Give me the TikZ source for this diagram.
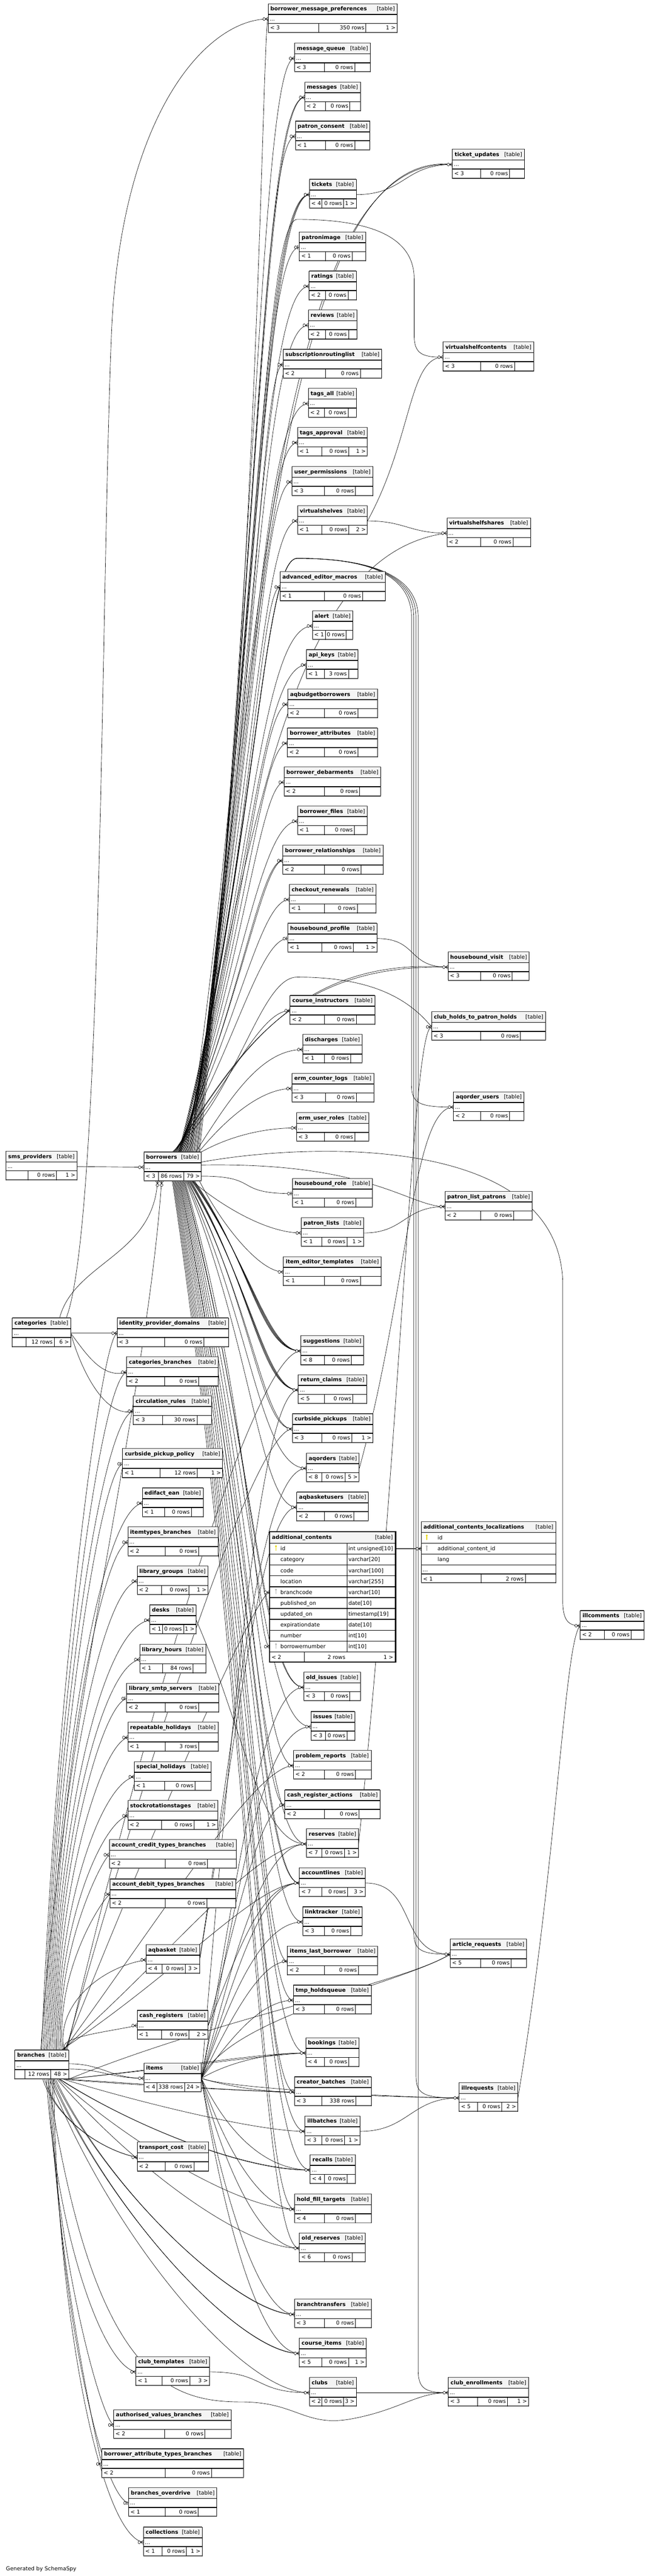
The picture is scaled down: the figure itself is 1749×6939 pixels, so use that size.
\documentclass[tikz,border=0pt]{standalone}
\usepackage{fontspec}
\setmainfont{DejaVu Sans}
\usetikzlibrary{calc}
\pgfdeclarelayer{back}\pgfdeclarelayer{edges}
\pgfsetlayers{back,edges,main}
\definecolor{hdrc}{HTML}{F4F4F4}
\definecolor{keyy}{HTML}{E6D600}
\definecolor{keyg}{HTML}{B4B4B4}
\tikzset{
 txt/.style={inner sep=0pt, font=\fontsize{14.5}{17}\selectfont},
 fk/.style={draw=black, line width=0.9pt},
 mkst/.style={draw=black, line width=0.9pt},
}
\newcommand\mytbl[5]{%
  \pgfmathsetmacro\tbw{#5-#3}%
  \xdef\tbx{#3}\xdef\tby{#4}\xdef\tbr{#5}%
  \fill[white] (#3,#4) rectangle (#5,#4+78);
  \fill[hdrc] (#3,#4) rectangle (#5,#4+29);
  \draw[line width=0.9pt] (#3,#4) rectangle (#5,#4+78);
  \draw[line width=2.2pt] (#3,#4+29) -- (#5,#4+29) (#3,#4+53) -- (#5,#4+53);
  \draw[line width=1.6pt, black!75] (#3,#4) -- (#5,#4);
  \draw[line width=2.6pt, black!65] (#3,#4+77.5) -- (#5,#4+77.5);
  \node[inner sep=0pt, minimum width=\tbw pt, minimum height=78pt, anchor=north west] (#1) at (#3,#4) {};
  \node[inner sep=0pt, minimum width=\tbw pt, minimum height=24pt, anchor=north west] (#1-d) at (#3,#4+29) {};
  \node[txt, anchor=base west] (#1-n) at (#3+6,#4+19) {\bfseries #2};
  \node[txt, anchor=base east] (#1-t) at (#5-6,#4+19) {[table]};
  \node[txt, anchor=base west] (#1-x) at (#3+4,#4+46) {...};
}
\newcommand\myft[6]{%
  \draw[line width=0.9pt] (#2,\tby+53) -- (#2,\tby+78) (#3,\tby+53) -- (#3,\tby+78);
  \node[txt, anchor=base west] (#1-fl) at (\tbx+5,\tby+70) {#4};
  \node[txt, anchor=base east] (#1-fm) at (#3-4,\tby+70) {#5};
  \node[txt, anchor=base east] (#1-fr) at (\tbr-4,\tby+70) {#6};
}
\newcommand\mkc[1]{%
  \draw[mkst] let \p1=(#1-d.west) in (\x1-7.5pt,\y1) -- (\x1,\y1+5pt) (\x1-7.5pt,\y1) -- (\x1,\y1-5pt) (\x1-7.5pt,\y1) -- (\x1,\y1);
  \draw[mkst, fill=white] let \p1=(#1-d.west) in (\x1-11pt,\y1) circle[x radius=3.2pt, y radius=4pt];
}
\newcommand\mkb[1]{%
  \draw[mkst, line width=1.4pt] let \p1=(#1-d.west) in (\x1-4pt,\y1-5pt) -- (\x1-4pt,\y1+5pt);
  \draw[mkst, fill=white] let \p1=(#1-d.west) in (\x1-10pt,\y1) circle[x radius=3.2pt, y radius=4pt];
}
\newcommand\mkup[1]{%
  \draw[mkst] let \p1=(#1) in (\x1,\y1-7.5pt) -- (\x1-5pt,\y1) (\x1,\y1-7.5pt) -- (\x1+5pt,\y1) (\x1,\y1-7.5pt) -- (\x1,\y1);
  \draw[mkst, fill=white] let \p1=(#1) in (\x1,\y1-11pt) circle[x radius=4pt, y radius=3.2pt];
}
\newcommand\Evert[5]{\draw[fk] let \p1=(#1), \p2=(#2-d.west) in (\p1) .. controls (#3pt,{0.5*(\y1+\y2)}) and (#4pt,{\y2-(#5pt)}) .. (\p2);}
\newcommand\Eside[3]{\draw[fk] let \p1=(#1), \p2=(#2-d.west) in (\p1) .. controls ($(\p1)+(#3,0)$) and ($(\p2)-(#3,0)$) .. (\p2);}
\newcommand\Earc[4]{\draw[fk] let \p1=(#1), \p2=(#2-d.west) in (\p1) .. controls (690pt,{0.5*(\y1-#3pt)}) and (705pt,-#3pt) .. (800pt,-#3pt) .. controls (960pt,-#3pt) and (#4pt,{-#3pt-30pt}) .. (#4pt,{-#3pt-160pt}) -- (#4pt,{\y2+60pt}) .. controls (#4pt,{\y2+10pt}) and ({#4pt+20pt},\y2) .. (\p2);}
\newcommand\keyicon[3]{\fill[#3] (#1,#2) circle[radius=2.7pt]; \draw[#3, line width=1.7pt] (#1,#2) -- (#1,#2+12);}
\begin{document}
\begin{tikzpicture}[x=1pt,y=-1pt]
\useasboundingbox (0,0) rectangle (1749,6939);
\begin{pgfonlayer}{back}\fill[white] (0,0) rectangle (1749,6939);\end{pgfonlayer}

\mytbl{bmp}{borrower\_message\_preferences}{722}{10}{1069}\myft{bmp}{858}{985}{< 3}{350 rows}{1 >}
\mytbl{mq}{message\_queue}{793}{116}{997}\myft{mq}{873}{955}{< 3}{0 rows}{}
\mytbl{msgs}{messages}{820}{221}{970}\myft{msgs}{876}{942}{< 2}{0 rows}{}
\mytbl{pc}{patron\_consent}{795}{326}{996}\myft{pc}{876}{955}{< 1}{0 rows}{}
\mytbl{tu}{ticket\_updates}{1218}{402}{1412}\myft{tu}{1294}{1372}{< 3}{0 rows}{}
\mytbl{tix}{tickets}{833}{483}{959}\myft{tix}{867}{925}{< 4}{0 rows}{1 >}
\mytbl{pimg}{patronimage}{806}{625}{984}\myft{pimg}{876}{948}{< 1}{0 rows}{}
\mytbl{rat}{ratings}{832}{730}{959}\myft{rat}{876}{937}{< 2}{0 rows}{}
\mytbl{rev}{reviews}{830}{835}{961}\myft{rev}{876}{938}{< 2}{0 rows}{}
\mytbl{srl}{subscriptionroutinglist}{762}{941}{1028}\myft{srl}{876}{970}{< 2}{0 rows}{}
\mytbl{vsc}{virtualshelfcontents}{1193}{921}{1437}\myft{vsc}{1294}{1385}{< 3}{0 rows}{}
\mytbl{tall}{tags\_all}{830}{1046}{960}\myft{tall}{874}{937}{< 2}{0 rows}{}
\mytbl{tapp}{tags\_approval}{801}{1151}{989}\myft{tapp}{866}{939}{< 1}{0 rows}{1 >}
\mytbl{uperm}{user\_permissions}{786}{1257}{1004}\myft{uperm}{873}{957}{< 3}{0 rows}{}
\mytbl{vs}{virtualshelves}{801}{1362}{989}\myft{vs}{866}{939}{< 1}{0 rows}{2 >}
\mytbl{vss}{virtualshelfshares}{1203}{1395}{1428}\myft{vss}{1294}{1381}{< 2}{0 rows}{}
\mytbl{aem}{advanced\_editor\_macros}{754}{1540}{1037}\myft{aem}{874}{976}{< 1}{0 rows}{}
\mytbl{alert}{alert}{841}{1645}{950}\myft{alert}{876}{932}{< 1}{0 rows}{}
\mytbl{api}{api\_keys}{825}{1750}{964}\myft{api}{873}{938}{< 1}{3 rows}{}
\mytbl{aqbb}{aqbudgetborrowers}{775}{1856}{1016}\myft{aqbb}{874}{964}{< 2}{0 rows}{}
\mytbl{battr}{borrower\_attributes}{774}{1961}{1016}\myft{battr}{873}{964}{< 2}{0 rows}{}
\mytbl{bdeb}{borrower\_debarments}{765}{2066}{1025}\myft{bdeb}{873}{968}{< 2}{0 rows}{}
\mytbl{bfiles}{borrower\_files}{801}{2171}{989}\myft{bfiles}{874}{954}{< 1}{0 rows}{}
\mytbl{brel}{borrower\_relationships}{761}{2277}{1031}\myft{brel}{874}{972}{< 2}{0 rows}{}
\mytbl{cren}{checkout\_renewals}{779}{2382}{1012}\myft{cren}{874}{962}{< 1}{0 rows}{}
\mytbl{hbp}{housebound\_profile}{775}{2487}{1015}\myft{hbp}{866}{951}{< 1}{0 rows}{1 >}
\mytbl{hbv}{housebound\_visit}{1206}{2564}{1425}\myft{hbv}{1294}{1379}{< 3}{0 rows}{}
\mytbl{cinst}{course\_instructors}{781}{2681}{1009}\myft{cinst}{873}{959}{< 2}{0 rows}{}
\mytbl{chph}{club\_holds\_to\_patron\_holds}{1162}{2725}{1469}\myft{chph}{1294}{1401}{< 3}{0 rows}{}
\mytbl{dis}{discharges}{815}{2786}{975}\myft{dis}{874}{944}{< 1}{0 rows}{}
\mytbl{ecl}{erm\_counter\_logs}{786}{2891}{1006}\myft{ecl}{876}{959}{< 3}{0 rows}{}
\mytbl{eur}{erm\_user\_roles}{798}{2997}{993}\myft{eur}{873}{955}{< 3}{0 rows}{}
\mytbl{aqou}{aqorder\_users}{1221}{2941}{1411}\myft{aqou}{1294}{1372}{< 2}{0 rows}{}
\mytbl{sms}{sms\_providers}{16}{3101}{207}\myft{sms}{75}{152}{}{0 rows}{1 >}
\mytbl{bor}{borrowers}{387}{3103}{542}\myft{bor}{426}{494}{< 3}{86 rows}{79 >}
\mytbl{hbr}{housebound\_role}{787}{3174}{1003}\myft{hbr}{873}{958}{< 1}{0 rows}{}
\mytbl{plp}{patron\_list\_patrons}{1198}{3209}{1433}\myft{plp}{1294}{1383}{< 2}{0 rows}{}
\mytbl{pl}{patron\_lists}{811}{3280}{979}\myft{pl}{866}{934}{< 1}{0 rows}{1 >}
\mytbl{iet}{item\_editor\_templates}{763}{3385}{1026}\myft{iet}{873}{970}{< 1}{0 rows}{}
\mytbl{cat}{categories}{33}{3550}{190}\myft{cat}{70}{146}{}{12 rows}{6 >}
\mytbl{ipd}{identity\_provider\_domains}{315}{3550}{615}\myft{ipd}{443}{549}{< 3}{0 rows}{}
\mytbl{sug}{suggestions}{810}{3598}{979}\myft{sug}{873}{946}{< 8}{0 rows}{}
\mytbl{cbr}{categories\_branches}{341}{3655}{588}\myft{cbr}{443}{535}{< 2}{0 rows}{}
\mytbl{rc}{return\_claims}{803}{3703}{987}\myft{rc}{873}{950}{< 5}{0 rows}{}
\mytbl{circ}{circulation\_rules}{359}{3760}{570}\myft{circ}{438}{530}{< 3}{30 rows}{}
\mytbl{cp}{curbside\_pickups}{787}{3808}{1004}\myft{cp}{867}{947}{< 3}{0 rows}{1 >}
\mytbl{cpp}{curbside\_pickup\_policy}{330}{3902}{599}\myft{cpp}{431}{531}{< 1}{12 rows}{1 >}
\mytbl{aqo}{aqorders}{825}{3914}{967}\myft{aqo}{867}{929}{< 8}{0 rows}{5 >}
\mytbl{ean}{edifact\_ean}{383}{4008}{547}\myft{ean}{443}{515}{< 1}{0 rows}{}
\mytbl{aqbu}{aqbasketusers}{799}{4019}{992}\myft{aqbu}{873}{953}{< 2}{0 rows}{}
\mytbl{itb}{itemtypes\_branches}{344}{4113}{587}\myft{itb}{444}{535}{< 2}{0 rows}{}
\mytbl{lg}{library\_groups}{369}{4218}{560}\myft{lg}{435}{509}{< 2}{0 rows}{1 >}
\mytbl{desks}{desks}{403}{4323}{528}\myft{desks}{437}{494}{< 1}{0 rows}{1 >}
\mytbl{illc}{illcomments}{1562}{4338}{1734}\myft{illc}{1627}{1699}{< 2}{0 rows}{}
\mytbl{lh}{library\_hours}{376}{4429}{554}\myft{lh}{438}{520}{< 1}{84 rows}{}
\mytbl{oi}{old\_issues}{818}{4504}{971}\myft{oi}{873}{942}{< 3}{0 rows}{}
\mytbl{lss}{library\_smtp\_servers}{341}{4534}{589}\myft{lss}{444}{535}{< 2}{0 rows}{}
\mytbl{iss}{issues}{837}{4610}{955}\myft{iss}{876}{934}{< 3}{0 rows}{}
\mytbl{rh}{repeatable\_holidays}{344}{4639}{587}\myft{rh}{444}{535}{< 1}{3 rows}{}
\mytbl{pr}{problem\_reports}{790}{4715}{999}\myft{pr}{873}{957}{< 2}{0 rows}{}
\mytbl{sh}{special\_holidays}{361}{4745}{568}\myft{sh}{443}{525}{< 1}{0 rows}{}
\mytbl{cra}{cash\_register\_actions}{767}{4821}{1023}\myft{cra}{873}{967}{< 2}{0 rows}{}
\mytbl{srs}{stockrotationstages}{344}{4850}{586}\myft{srs}{435}{522}{< 2}{0 rows}{1 >}
\mytbl{res}{reserves}{825}{4926}{965}\myft{res}{867}{927}{< 7}{0 rows}{1 >}
\mytbl{actb}{account\_credit\_types\_branches}{294}{4955}{636}\myft{actb}{444}{559}{< 2}{0 rows}{}
\mytbl{al}{accountlines}{806}{5031}{983}\myft{al}{866}{936}{< 7}{0 rows}{3 >}
\mytbl{adtb}{account\_debit\_types\_branches}{296}{5061}{634}\myft{adtb}{444}{557}{< 2}{0 rows}{}
\mytbl{lt}{linktracker}{815}{5136}{975}\myft{lt}{873}{944}{< 3}{0 rows}{}
\mytbl{aqb}{aqbasket}{393}{5238}{537}\myft{aqb}{436}{499}{< 4}{0 rows}{3 >}
\mytbl{ilb}{items\_last\_borrower}{774}{5242}{1017}\myft{ilb}{874}{965}{< 2}{0 rows}{}
\mytbl{ar}{article\_requests}{1212}{5223}{1418}\myft{ar}{1294}{1376}{< 5}{0 rows}{}
\mytbl{thq}{tmp\_holdsqueue}{790}{5347}{999}\myft{thq}{873}{957}{< 3}{0 rows}{}
\mytbl{cr}{cash\_registers}{369}{5415}{560}\myft{cr}{435}{509}{< 1}{0 rows}{2 >}
\mytbl{bk}{bookings}{823}{5489}{966}\myft{bk}{873}{939}{< 4}{0 rows}{}
\mytbl{br}{branches}{40}{5522}{185}\myft{br}{67}{137}{}{12 rows}{48 >}
\mytbl{items}{items}{387}{5557}{542}\myft{items}{422}{497}{< 4}{338 rows}{24 >}
\mytbl{cb}{creator\_batches}{793}{5594}{999}\myft{cb}{866}{958}{< 3}{338 rows}{}
\mytbl{illr}{illrequests}{1236}{5610}{1394}\myft{illr}{1286}{1351}{< 5}{0 rows}{2 >}
\mytbl{illb}{illbatches}{821}{5700}{969}\myft{illb}{866}{928}{< 3}{0 rows}{1 >}
\mytbl{tc}{transport\_cost}{369}{5770}{561}\myft{tc}{444}{522}{< 2}{0 rows}{}
\mytbl{rec}{recalls}{835}{5804}{956}\myft{rec}{874}{935}{< 4}{0 rows}{}
\mytbl{hft}{hold\_fill\_targets}{793}{5910}{999}\myft{hft}{874}{957}{< 4}{0 rows}{}
\mytbl{ores}{old\_reserves}{806}{6015}{983}\myft{ores}{873}{948}{< 6}{0 rows}{}
\mytbl{bt}{branchtransfers}{793}{6193}{999}\myft{bt}{874}{957}{< 3}{0 rows}{}
\mytbl{ci}{course\_items}{806}{6298}{986}\myft{ci}{867}{938}{< 5}{0 rows}{1 >}
\mytbl{ct}{club\_templates}{366}{6348}{564}\myft{ct}{436}{511}{< 1}{0 rows}{3 >}
\mytbl{clubs}{clubs}{833}{6404}{959}\myft{clubs}{867}{925}{< 2}{0 rows}{3 >}
\mytbl{ce}{club\_enrollments}{1207}{6404}{1423}\myft{ce}{1286}{1366}{< 3}{0 rows}{1 >}
\mytbl{avb}{authorised\_values\_branches}{306}{6491}{622}\myft{avb}{443}{552}{< 2}{0 rows}{}
\mytbl{batb}{borrower\_attribute\_types\_branches}{274}{6596}{656}\myft{batb}{444}{569}{< 2}{0 rows}{}
\mytbl{bo}{branches\_overdrive}{346}{6701}{584}\myft{bo}{444}{534}{< 1}{0 rows}{}
\mytbl{coll}{collections}{386}{6807}{544}\myft{coll}{436}{502}{< 1}{0 rows}{1 >}

% additional_contents (focus table)
\fill[white] (726,4126) rectangle (1065,4477);
\fill[hdrc] (726,4126) rectangle (1065,4157);
\node[inner sep=0pt, minimum width=339pt, minimum height=351pt, anchor=north west] (ac) at (726,4126) {};
\node[txt, anchor=base west] (ac-n) at (732,4146) {\bfseries additional\_contents};
\node[txt, anchor=base east] (ac-t) at (1058,4146) {[table]};
\foreach \i/\rn/\tp in {0/id/int unsigned[10],1/category/varchar[20],2/code/varchar[100],3/location/varchar[255],4/branchcode/varchar[10],5/published\_on/date[10],6/updated\_on/timestamp[19],7/expirationdate/date[10],8/number/int[10],9/borrowernumber/int[10]}
{\node[txt, anchor=base west] (ac-r\i) at (755,4157+\i*29.3+20) {\rn};
 \node[txt, anchor=base west] (ac-y\i) at (938,4157+\i*29.3+20) {\tp};}
\foreach \i in {0,...,10} {\draw[line width=2pt] (726,4157+\i*29.3) -- (1065,4157+\i*29.3);}
\draw[line width=0.9pt] (934,4157) -- (934,4450) (819,4450) -- (819,4477);
\node[txt, anchor=base west] (ac-fl) at (731,4469) {< 2};
\node[txt, anchor=base east] (ac-fm) at (930,4469) {2 rows};
\node[txt, anchor=base east] (ac-fr) at (1059,4469) {1 >};
\draw[line width=3.5pt] (726,4126) rectangle (1065,4477);
\node[inner sep=0pt, minimum width=339pt, minimum height=29.3pt, anchor=north west] (acid) at (726,4157) {};
\node[inner sep=0pt, minimum width=339pt, minimum height=29.3pt, anchor=north west] (acbc-d) at (726,4274.2) {};
\node[inner sep=0pt, minimum width=339pt, minimum height=29.3pt, anchor=north west] (acbn-d) at (726,4420.7) {};
\keyicon{743}{4165}{keyy}
\keyicon{743}{4282}{keyg}
\keyicon{743}{4429}{keyg}

% additional_contents_localizations
\fill[white] (1134,4098.5) rectangle (1496,4264);
\fill[hdrc] (1134,4098.5) rectangle (1496,4127.7);
\node[inner sep=0pt, minimum width=362pt, minimum height=165.5pt, anchor=north west] (acl) at (1134,4098.5) {};
\draw[line width=0.9pt] (1134,4098.5) rectangle (1496,4264);
\draw[line width=1.6pt, black!75] (1134,4098.5) -- (1496,4098.5);
\draw[line width=2.2pt] (1134,4127.7) -- (1496,4127.7) (1134,4157) -- (1496,4157) (1134,4186.3) -- (1496,4186.3) (1134,4215.6) -- (1496,4215.6) (1134,4239.8) -- (1496,4239.8);
\draw[line width=2.6pt, black!65] (1134,4263.5) -- (1496,4263.5);
\draw[line width=0.9pt] (1295,4239.8) -- (1295,4264) (1414,4239.8) -- (1414,4264);
\node[txt, anchor=base west] (acl-n) at (1140,4118.5) {\bfseries additional\_contents\_localizations};
\node[txt, anchor=base east] (acl-t) at (1490,4118.5) {[table]};
\node[txt, anchor=base west] (acl-r1) at (1178,4147.7) {id};
\node[txt, anchor=base west] (acl-r2) at (1178,4177) {additional\_content\_id};
\node[txt, anchor=base west] (acl-r3) at (1178,4206.3) {lang};
\node[txt, anchor=base west] (acl-x) at (1138,4233) {...};
\node[txt, anchor=base west] (acl-fl) at (1139,4258) {< 1};
\node[txt, anchor=base east] (acl-fm) at (1410,4258) {2 rows};
\node[inner sep=0pt, minimum width=362pt, minimum height=29.3pt, anchor=north west] (acl-d) at (1134,4157) {};
\keyicon{1149}{4136}{keyy}
\keyicon{1149}{4165}{keyg}

\node[txt, anchor=base west] (gen) at (16,6925) {Generated by SchemaSpy};

\coordinate (bin1) at ($(bor.south west)+(37,0)$);
\coordinate (bin2) at ($(bor.south west)+(48,0)$);

\begin{pgfonlayer}{edges}
% borrowers -> upper tables
\foreach \tn/\of/\cxa/\cxb/\dy in {bmp/150/700/706/0, mq/147/690/700/0, msgs/144/690/700/0, msgs/142/690/706/6,
 pc/139/690/700/0, tu/136/690/760/-50, tu/134/690/740/-28,
 tix/131/690/700/0, tix/129/690/706/6, tix/127/690/712/12,
 pimg/125/690/700/0, rat/123/690/700/0, rev/121/690/700/0, srl/119/685/700/0,
 tall/115/685/700/0, tapp/113/685/700/0, uperm/111/680/700/0, vs/109/680/700/0,
 vss/107/680/770/55, aem/105/675/700/0, alert/103/675/700/0, api/101/670/700/0,
 aqbb/99/665/700/0, battr/97/660/700/0, bdeb/95/655/700/0, bfiles/93/650/700/0,
 brel/91/645/700/0, brel/89/645/706/6, cren/87/640/700/0, hbp/85/635/700/0,
 hbv/83/635/790/-28, hbv/81/635/770/-10, cinst/79/625/700/0, dis/140/615/700/0,
 ecl/148/605/700/0, eur/155/600/690/0}
 {\Evert{$(bor.north west)+(\of,0)$}{\tn}{\cxa}{\cxb}{\dy}}
\Earc{$(bor.north west)+(117,0)$}{vsc}{591}{1115}
\Earc{$(bor.north west)+(100,0)$}{aqou}{1504}{1108}
\Earc{$(bor.north west)+(98,0)$}{ar}{1504}{1114}
\Earc{$(bor.north west)+(96,0)$}{illr}{1504}{1120}
\Earc{$(bor.north west)+(94,0)$}{ce}{1504}{1126}
\draw[fk] let \p1=($(bor.north west)+(77,0)$), \p2=(chph-d.west) in (\p1) .. controls (640pt,-2950pt) and (700pt,-2632pt) .. (800pt,-2632pt) .. controls (1000pt,-2632pt) and (1100pt,-2690pt) .. (\p2);
% borrowers -> right side
\Eside{$(bor.east)+(0,26)$}{hbr}{160}
\Evert{$(bor.south east)+(-25,0)$}{pl}{600}{720}{0}
\draw[fk] let \p1=($(bor.east)+(0,-4)$), \p2=(plp-d.west) in (\p1) .. controls (1000pt,-3130pt) and (1100pt,\y2) .. (\p2);
\draw[fk] let \p1=($(bor.east)+(0,-12)$), \p2=(illc-d.west) in (\p1) .. controls (850pt,-3075pt) and (1500pt,-3060pt) .. (1515pt,-3450pt) -- (1515pt,-4310pt) .. controls (1515pt,-4365pt) and (1530pt,\y2) .. (\p2);
% borrowers -> lower tables
\foreach \tn/\of/\cxa/\cxb in {iet/150/600/700, sug/137/680/700, sug/135/680/705, sug/133/680/710, sug/131/680/715, sug/129/680/720,
 rc/127/680/700, rc/125/680/705, rc/123/680/710, rc/121/680/715, cp/119/680/700, cp/117/680/710, aqo/115/680/700,
 aqbu/113/680/700, acbn/111/680/690, oi/109/680/700, oi/107/680/706, iss/105/680/700, pr/103/680/700, cra/101/680/700,
 res/99/680/700, al/97/680/700, al/95/680/706, lt/93/680/700, ilb/91/680/700, thq/89/680/700, bk/87/680/700,
 cb/85/680/700, illb/83/680/700, rec/81/680/700, hft/79/680/700, ores/77/680/700}
 {\Evert{$(bor.south west)+(\of,0)$}{\tn}{\cxa}{\cxb}{0}}
% parents of borrowers
\draw[fk] (sms-d.east) -- (bor-d.west);
\draw[fk] let \p1=($(cat.north east)+(-30,0)$), \p2=(bin1) in (\p1) .. controls ($(\p1)+(40,-150)$) and ($(\p2)+(-10,200)$) .. (\p2);
\draw[fk] let \p1=($(br.north west)+(70,0)$), \p2=(bin2) in (\p1) .. controls ($(\p1)+(60,-900)$) and ($(\p2)+(-40,600)$) .. (\p2);
% categories
\draw[fk] let \p1=($(cat.north east)+(-12,0)$), \p2=(bmp-d.west) in (\p1) .. controls (275pt,-3300pt) and (272pt,-1600pt) .. (300pt,-900pt) .. controls (325pt,-300pt) and (560pt,\y2) .. (\p2);
\draw[fk, line width=1.6pt, black!80] (cat-d.east) -- (ipd-d.west);
\Evert{cat-d.east}{cbr}{230}{275}{20}
\Evert{cat-d.east}{circ}{220}{285}{20}
% branches -> left column
\foreach \tn/\of in {ipd/72, cbr/76, circ/80, cpp/84, ean/88, itb/92, lg/96, desks/100, lh/104, lss/108, rh/112, sh/116, srs/120, actb/124, adtb/128, aqb/132, cr/136}
 {\Evert{$(br.north west)+(\of,0)$}{\tn}{150}{270}{20}}
\foreach \tn/\of in {tc/75, tc/80, ct/85, avb/90, batb/95, bo/100, coll/105}
 {\Evert{$(br.south west)+(\of,0)$}{\tn}{150}{270}{-20}}
% branches -> middle tables
\foreach \tn/\of/\cxa in {sug/5/400, cp/8/410, acbc/11/420, pr/14/450, res/17/480, al/20/500}
 {\Evert{$(br.north east)+(-\of,0)$}{\tn}{\cxa}{690}{0}}
\foreach \tn/\of/\cxa/\cxb/\dy in {ar/0/600/1080/80, bk/4/500/700/0, bk/8/520/706/6, cb/12/450/700/0, illb/16/400/700/0,
 illr/20/450/1100/0, rec/24/350/650/0, rec/26/350/660/5, hft/28/350/650/0, ores/32/350/650/0, bt/36/300/650/0,
 bt/40/300/656/6, ci/44/300/650/0, ci/48/300/656/6, clubs/52/300/650/0}
 {\Evert{$(br.south east)+(-\of,0)$}{\tn}{\cxa}{\cxb}{\dy}}
\draw[fk] let \p1=($(br.south east)+(-56,0)$), \p2=(ce-d.west) in (\p1) .. controls (250pt,-6400pt) and (450pt,-6470pt) .. (650pt,-6470pt) .. controls (800pt,-6470pt) and (820pt,-6540pt) .. (950pt,-6515pt) .. controls (1080pt,-6490pt) and (1120pt,\y2) .. (\p2);
\Eside{$(br-d.east)+(0,-4)$}{items}{90}
\Eside{$(br-d.east)+(0,10)$}{items}{90}
% items -> children
\foreach \tn/\cxa/\cxb/\dy in {rc/620/700/0, ilb/620/700/0, thq/620/700/0, bk/600/700/0, cb/600/700/0, oi/640/700/0,
 iss/640/700/0, res/630/700/0, al/630/700/0, lt/620/700/0, ar/620/1080/80, rec/600/700/0, hft/600/700/0,
 ores/600/700/0, bt/600/700/0, ci/600/700/0, illr/600/1100/0}
 {\Evert{items-d.east}{\tn}{\cxa}{\cxb}{\dy}}
% other parents
\Eside{tix-d.east}{tu}{130}
\Evert{vs-d.east}{vsc}{1110}{1100}{0}
\Eside{vs-d.east}{vss}{100}
\Eside{hbp-d.east}{hbv}{110}
\Eside{pl-d.east}{plp}{110}
\Evert{aqo-d.east}{aqou}{1100}{1110}{0}
\Evert{res-d.east}{chph}{1080}{1110}{0}
\Evert{desks-d.east}{res}{660}{700}{0}
\Evert{aqb-d.east}{aqo}{640}{700}{0}
\Evert{aqb-d.east}{aqbu}{640}{700}{0}
\Evert{cr-d.east}{al}{640}{700}{0}
\Evert{cr-d.east}{cra}{640}{700}{0}
\Eside{al-d.east}{ar}{140}
\Eside{illb-d.east}{illr}{130}
\Evert{illr-d.east}{illc}{1500}{1520}{40}
\draw[fk] (clubs-d.east) -- (ce-d.west);
\Eside{ct-d.east}{clubs}{150}
\draw[fk, line width=2pt, black!75] (acid.east) -- (acl-d.west);
\end{pgfonlayer}

% markers
\foreach \tn in {bmp, mq, msgs, pc, tu, tix, rat, rev, srl, vsc, tall, tapp, uperm, vs, vss, aem, alert, api, aqbb, battr, bdeb, bfiles, brel, cren, hbv, cinst, chph, dis, ecl, eur, aqou, bor, plp, pl, iet, ipd, sug, cbr, rc, circ, cp, aqo, ean, aqbu, itb, lg, desks, illc, lh, oi, iss, rh, pr, sh, cra, srs, res, actb, al, adtb, lt, aqb, ilb, ar, thq, cr, bk, items, cb, illr, illb, tc, rec, hft, ores, bt, ci, ct, clubs, ce, avb, batb, coll, acbc, acbn, acl}
 {\mkc{\tn}}
\foreach \tn in {pimg, hbp, hbr, cpp, lss, bo} {\mkb{\tn}}
\mkup{bin1}
\mkup{bin2}
\end{tikzpicture}
\end{document}
